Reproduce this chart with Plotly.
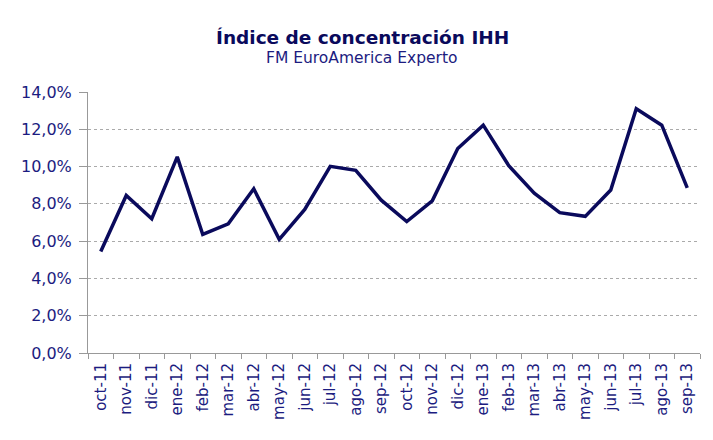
import plotly.graph_objects as go

months = ["oct-11", "nov-11", "dic-11", "ene-12", "feb-12", "mar-12", "abr-12", "may-12",
          "jun-12", "jul-12", "ago-12", "sep-12", "oct-12", "nov-12", "dic-12", "ene-13",
          "feb-13", "mar-13", "abr-13", "may-13", "jun-13", "jul-13", "ago-13", "sep-13"]
ihh = [5.44, 8.45, 7.2, 10.52, 6.36, 6.93, 8.81, 6.1, 7.7, 10.01, 9.8, 8.2,
       7.05, 8.16, 10.97, 12.22, 10.05, 8.57, 7.53, 7.33, 8.74, 13.1, 12.22, 8.86]
y_ticks = [0, 2, 4, 6, 8, 10, 12, 14]

title = "Índice de concentración IHH"
subtitle = "FM EuroAmerica Experto"

font_family = "DejaVu Sans, Verdana, sans-serif"
text_color = "#1c1c80"

fig = go.Figure()
fig.add_trace(go.Scatter(
    x=months, y=[v / 100 for v in ihh], mode="lines",
    line=dict(color="#0a0a5c", width=3.5), hoverinfo="x+y",
))

fig.update_layout(
    width=713, height=440,
    margin=dict(l=88, r=13, t=92, b=87, autoexpand=False),
    paper_bgcolor="white", plot_bgcolor="white",
    separators=",.",
    showlegend=False,
    font=dict(family=font_family, color=text_color, size=15),
    annotations=[
        dict(text="<b>" + title + "</b>", xref="paper", yref="paper",
             x=(362 - 88) / 612, y=1.207, xanchor="center", yanchor="middle",
             showarrow=False, font=dict(size=18.5, color="#0a0a5c", family=font_family)),
        dict(text=subtitle, xref="paper", yref="paper",
             x=(362 - 88) / 612, y=1.13, xanchor="center", yanchor="middle",
             showarrow=False, font=dict(size=15.5, color="#1c1c80", family=font_family)),
    ],
)

fig.update_xaxes(
    type="category", range=[-0.5, len(months) - 0.5],
    tickangle=-90, tickson="boundaries", automargin=False, ticklabelstandoff=3,
    ticks="outside", ticklen=5, tickcolor="#999999",
    showline=True, linecolor="#999999", linewidth=1,
    showgrid=False, tickfont=dict(size=15, color=text_color),
)
fig.update_yaxes(
    range=[0, 0.14], tickvals=[v / 100 for v in y_ticks], tickformat=".1%",
    automargin=False, ticklabelstandoff=4,
    ticks="outside", ticklen=8, tickcolor="#999999",
    showline=True, linecolor="#999999", linewidth=1,
    showgrid=True, gridcolor="#aaaaaa", griddash="dot", gridwidth=1,
    zeroline=False, tickfont=dict(size=16, color=text_color),
)

fig.write_html("out.html", config={"displayModeBar": False},
               post_script="document.body.style.margin='0';document.body.style.overflow='hidden';")
